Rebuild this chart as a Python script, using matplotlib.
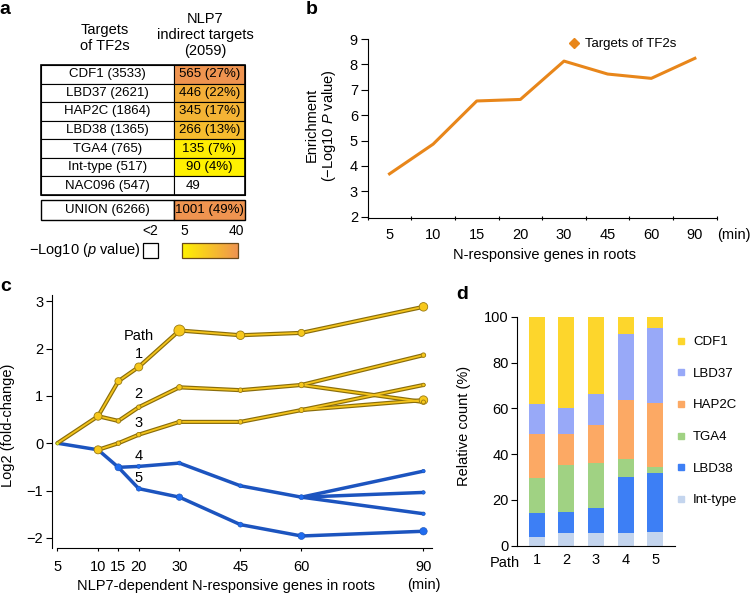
import matplotlib.pyplot as plt
import numpy as np
from matplotlib.patches import Rectangle
from matplotlib.lines import Line2D
from matplotlib.colors import LinearSegmentedColormap, Normalize

plt.rcParams['font.family'] = ['Liberation Sans', 'DejaVu Sans']
plt.rcParams['mathtext.fontset'] = 'custom'
plt.rcParams['mathtext.rm'] = 'Liberation Sans'
plt.rcParams['mathtext.it'] = 'Liberation Sans:italic'

# --- a: overlap of TF2 targets with NLP7 indirect targets
tf_names = ['CDF1 (3533)', 'LBD37 (2621)', 'HAP2C (1864)', 'LBD38 (1365)',
            'TGA4 (765)', 'Int-type (517)', 'NAC096 (547)']
overlap = ['565 (27%)', '446 (22%)', '345 (17%)', '266 (13%)', '135 (7%)', '90 (4%)', '49']
neglog_p = [40, 30, 28, 25, 7, 5.5, 1]
union_name = 'UNION (6266)'
union_overlap = '1001 (49%)'
union_p = 40

# --- b: enrichment over time
b_times = ['5', '10', '15', '20', '30', '45', '60', '90']
b_enrich = [3.69, 4.86, 6.56, 6.62, 8.13, 7.62, 7.45, 8.24]

# --- c: paths (time position, log2 fold change)
c_ticks = [0, 10, 15, 20, 30, 45, 60, 90]
c_ticklabels = ['5', '10', '15', '20', '30', '45', '60', '90']
up_t = [[0, 10, 15, 20, 30, 45, 60, 90],
        [10, 15, 20, 30, 45, 60, 90],
        [60, 90],
        [10, 15, 20, 30, 45, 60, 90],
        [60, 90]]
up_v = [[0, 0.57, 1.31, 1.61, 2.38, 2.28, 2.33, 2.88],
        [0.57, 0.47, 0.76, 1.18, 1.12, 1.23, 1.86],
        [1.23, 0.87],
        [-0.14, 0.0, 0.18, 0.45, 0.45, 0.70, 1.23],
        [0.70, 0.91]]
down_t = [[0, 10, 15, 20, 30, 45, 60, 90],
          [60, 90],
          [60, 90],
          [15, 20, 30, 45, 60, 90]]
down_v = [[0, -0.14, -0.51, -0.49, -0.42, -0.90, -1.14, -0.59],
          [-1.14, -1.04],
          [-1.14, -1.49],
          [-0.51, -0.96, -1.14, -1.72, -1.96, -1.86]]
up_node_t = [10, 15, 20, 30, 45, 60, 90, 15, 20, 30, 45, 60, 90, 90, 90,
             10, 15, 20, 30, 45, 60, 90]
up_node_v = [0.57, 1.31, 1.61, 2.38, 2.28, 2.33, 2.88, 0.47, 0.76, 1.18, 1.12, 1.23, 1.86, 0.91, 0.87,
             -0.14, 0.0, 0.18, 0.45, 0.45, 0.70, 1.23]
up_node_d = [8, 7, 8, 11, 8.5, 7, 8.5, 4.5, 4.5, 5.5, 4.5, 5.5, 4.5, 8.5, 4,
             8, 4.5, 4.5, 5, 4.5, 5, 3.5]
down_node_t = [15, 20, 30, 45, 60, 90, 90, 90, 20, 30, 45, 60, 90]
down_node_v = [-0.51, -0.49, -0.42, -0.90, -1.14, -0.59, -1.04, -1.49, -0.96, -1.14, -1.72, -1.96, -1.86]
down_node_d = [7, 4, 4, 4, 5, 3.5, 3.5, 3.5, 5, 6.5, 5, 7, 7.5]
path_labels = ['Path', '1', '2', '3', '4', '5']
path_label_v = [2.27, 1.89, 1.04, 0.42, -0.27, -0.74]

# --- d: composition per path (%)
d_paths = ['1', '2', '3', '4', '5']
d_int = [3.8, 5.5, 5.5, 5.5, 6.0]
d_lbd38 = [10.5, 9.2, 10.9, 24.5, 25.7]
d_tga4 = [15.3, 20.5, 19.6, 7.7, 2.5]
d_hap2c = [19.2, 13.6, 16.6, 25.9, 28.0]
d_lbd37 = [12.9, 11.3, 13.5, 29.0, 33.0]
d_cdf1 = [38.3, 39.9, 33.9, 7.4, 4.8]

W, H = 752, 596
fig = plt.figure(figsize=(W / 100, H / 100), dpi=100)


def px_axes(l, t, r, b):
    return fig.add_axes([l / W, 1 - b / H, (r - l) / W, (b - t) / H])


def px_text(x, y, s, **kw):
    fig.text(x / W, 1 - y / H, s, **kw)


# ================= a =================
ax = px_axes(0, 0, 260, 290)
cmap = LinearSegmentedColormap.from_list('y2o', ['#fff200', '#ef9450'])
norm = Normalize(5, 40)


def cell_color(p):
    return 'white' if p < 2 else cmap(norm(p))


x0, x1, x2 = 41, 174, 245
top, rh = 65, 18.57
for i in range(len(tf_names)):
    y = top + i * rh
    ax.add_patch(Rectangle((x0, y), x1 - x0, rh, fc='white', ec='black', lw=0.8))
    ax.add_patch(Rectangle((x1, y), x2 - x1, rh, fc=cell_color(neglog_p[i]), ec='black', lw=0.8))
    ax.text((x0 + x1) / 2, y + rh / 2, tf_names[i], ha='center', va='center', fontsize=9.5)
    if neglog_p[i] < 2:
        ax.text(x1 + 12, y + rh / 2, overlap[i], ha='left', va='center', fontsize=9.5)
    else:
        ax.text((x1 + x2) / 2, y + rh / 2, overlap[i], ha='center', va='center', fontsize=9.5)
ax.add_patch(Rectangle((x0, top), x2 - x0, rh * len(tf_names), fc='none', ec='black', lw=1.2))
uy, uh = 200, 20
ax.add_patch(Rectangle((x0, uy), x1 - x0, uh, fc='white', ec='black', lw=1.0))
ax.add_patch(Rectangle((x1, uy), x2 - x1, uh, fc=cell_color(union_p), ec='black', lw=1.0))
ax.text((x0 + x1) / 2, uy + uh / 2, union_name, ha='center', va='center', fontsize=9.5)
ax.text((x1 + x2) / 2, uy + uh / 2, union_overlap, ha='center', va='center', fontsize=9.5)

ax.text(105, 38, 'Targets\nof TF2s', ha='center', va='center', fontsize=10.5)
ax.text(205, 35, 'NLP7\nindirect targets\n(2059)', ha='center', va='center', fontsize=10.5)

ax.text(150, 231, '<2', ha='center', va='center', fontsize=10)
ax.text(184, 231, '5', ha='center', va='center', fontsize=10)
ax.text(236, 231, '40', ha='center', va='center', fontsize=10)
ax.text(85, 250, '\u2212Log10 ($p$ value)', ha='center', va='center', fontsize=10.5)
ax.add_patch(Rectangle((143, 243), 15, 15, fc='white', ec='black', lw=0.9))
ax.imshow(np.linspace(0, 1, 200)[None, :], cmap=cmap, aspect='auto', extent=[182, 238, 258, 243])
ax.add_patch(Rectangle((182, 243), 56, 15, fc='none', ec='#6b4a1a', lw=0.9))
ax.set_xlim(0, 260)
ax.set_ylim(290, 0)
ax.axis('off')

# ================= b =================
ax = px_axes(367.7, 39, 716.7, 218.3)
xb = np.arange(len(b_times))
ax.plot(xb, b_enrich, color='#e8861a', lw=2.2)
ax.set_xlim(-0.5, len(b_times) - 0.5)
ax.set_ylim(1.94, 9)
ax.set_yticks(range(2, 10))
ax.set_xticks(np.arange(len(b_times) + 1) - 0.5)
ax.set_xticklabels([])
ax.set_xticks(xb, minor=True)
ax.set_xticklabels(b_times, minor=True, fontsize=10.5)
ax.tick_params(axis='x', which='major', length=3.5, direction='inout')
ax.tick_params(axis='x', which='minor', length=0, pad=7)
ax.tick_params(axis='y', length=5, pad=2, labelsize=10.5)
for s in ['top', 'right']:
    ax.spines[s].set_visible(False)
px_text(751, 235, '(min)', ha='right', va='center', fontsize=10.5)
ax.set_xlabel('N-responsive genes in roots', fontsize=10.5)
ax.xaxis.set_label_coords(0.507, -0.165)
ax.set_ylabel('Enrichment\n(\u2212Log10 $P$ value)', fontsize=10.5, linespacing=1.1)
ax.yaxis.set_label_coords(-0.085, 0.52)
ax.legend(handles=[Line2D([], [], ls='none', marker='D', color='#e8861a', markersize=5.5)],
          labels=['Targets of TF2s'], loc='upper left', bbox_to_anchor=(567 / W, 1 - 38 / H),
          bbox_transform=fig.transFigure, frameon=False, fontsize=9.5,
          handlelength=1.0, handletextpad=0.4, borderpad=0, borderaxespad=0)

# ================= c =================
ax = px_axes(51.7, 295, 432, 548.3)
for t, v in zip(down_t, down_v):
    ax.plot(t, v, color='#1c54bf', lw=2.5, solid_capstyle='round', zorder=2)
for t, v in zip(up_t, up_v):
    ax.plot(t, v, color='#8a6d0a', lw=3.0, solid_capstyle='round', zorder=3)
for t, v in zip(up_t, up_v):
    ax.plot(t, v, color='#f4c41c', lw=1.3, solid_capstyle='round', zorder=4)
ax.scatter(down_node_t, down_node_v, s=(np.array(down_node_d) * 0.72) ** 2,
           color='#1f6cf0', edgecolor='#1a50b0', linewidth=0.4, zorder=5)
ax.scatter(up_node_t, up_node_v, s=(np.array(up_node_d) * 0.72) ** 2,
           color='#f7c81c', edgecolor='#9a7a10', linewidth=0.6, zorder=6)
ax.scatter([0], [0], s=(3 * 0.72) ** 2, color='#e6f02a', edgecolor='#9a9a10', linewidth=0.4, zorder=6)
for lab, v in zip(path_labels, path_label_v):
    ax.text(20, v, lab, ha='center', va='center', fontsize=10.5, zorder=7)
ax.set_xlim(-1.4, 92.1)
ax.set_ylim(-2.22, 3.13)
ax.set_xticks(c_ticks)
ax.set_xticklabels(c_ticklabels, fontsize=10.5)
ax.set_yticks(range(-2, 4))
ax.tick_params(axis='x', length=2.5, pad=6)
ax.tick_params(axis='y', length=4, pad=2, labelsize=10.5)
for s in ['top', 'right']:
    ax.spines[s].set_visible(False)
ax.spines['bottom'].set_bounds(0, 92.1)
ax.text(90, -3.0, '(min)', ha='center', va='center', fontsize=10.5, clip_on=False)
ax.set_xlabel('NLP7-dependent N-responsive genes in roots', fontsize=10.5)
ax.xaxis.set_label_coords(0.458, -0.12)
ax.set_ylabel('Log2 (fold-change)', fontsize=10.5)
ax.yaxis.set_label_coords(-0.097, 0.487)

# ================= d =================
ax = px_axes(517.3, 316.7, 675, 545.7)
xd = np.arange(len(d_paths))
stack = [('Int-type', d_int, '#c4d5ee'), ('LBD38', d_lbd38, '#3d7ff5'),
         ('TGA4', d_tga4, '#a0d283'), ('HAP2C', d_hap2c, '#fca964'),
         ('LBD37', d_lbd37, '#98a9f8'), ('CDF1', d_cdf1, '#fdd62c')]
bottom = np.zeros(len(d_paths))
handles = []
for name, vals, col in stack:
    ax.bar(xd, vals, 0.54, bottom=bottom, color=col, linewidth=0)
    bottom += np.array(vals)
    handles.append(Line2D([], [], ls='none', marker='s', color=col, markersize=4.5, label=name))
ax.set_xlim(-0.655, 4.67)
ax.set_ylim(0, 100)
ax.set_xticks(xd)
ax.set_xticklabels(d_paths, fontsize=10.5)
ax.text(-1.07, -4.5, 'Path', ha='center', va='top', fontsize=10.5, clip_on=False)
ax.tick_params(axis='x', length=0, pad=5)
ax.tick_params(axis='y', length=4, pad=2, labelsize=10.5)
for s in ['top', 'right']:
    ax.spines[s].set_visible(False)
ax.set_ylabel('Relative count (%)', fontsize=10.5)
ax.yaxis.set_label_coords(-0.296, 0.523)
ax.legend(handles=handles[::-1], loc='upper left', bbox_to_anchor=(676 / W, 1 - 336 / H),
          bbox_transform=fig.transFigure, frameon=False, fontsize=9.5,
          handlelength=0.7, handletextpad=0.6, labelspacing=1.47, borderpad=0, borderaxespad=0)

# panel letters
for lab, x, y in [('a', 5, 9), ('b', 312, 9), ('c', 6, 287), ('d', 462, 295)]:
    px_text(x, y, lab, fontsize=14, fontweight='bold', ha='center', va='center')

fig.savefig('out.png', dpi=100)
